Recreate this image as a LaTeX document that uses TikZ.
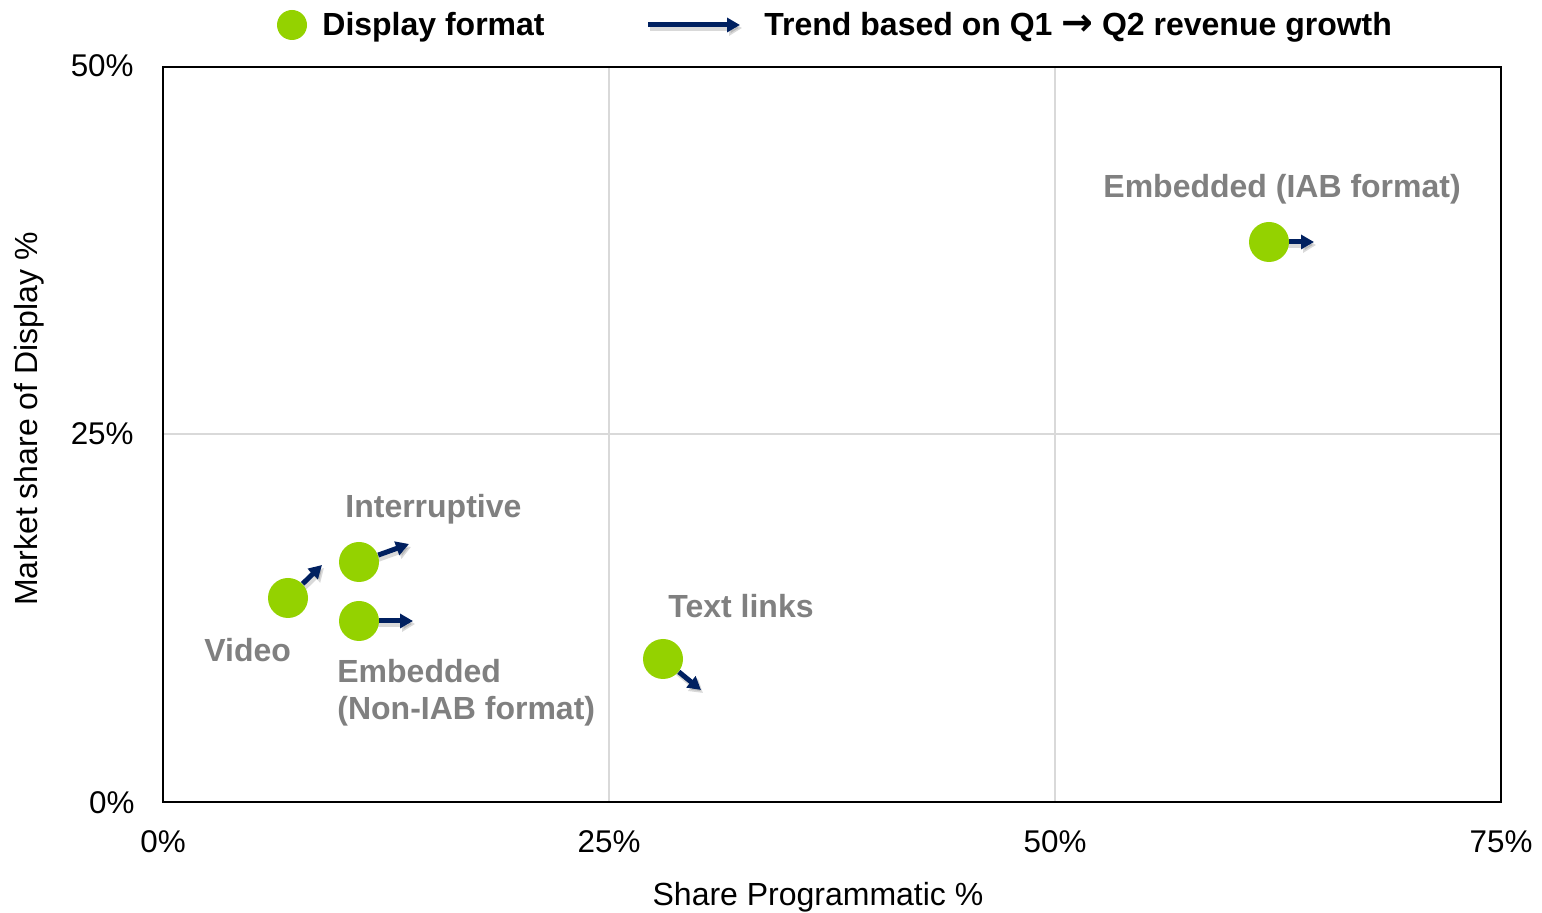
\documentclass[tikz,border=0pt]{standalone}
\usepackage{fontspec}
\setmainfont{Liberation Sans}
\newfontfamily\djv{DejaVu Sans}
\usetikzlibrary{arrows.meta}
\definecolor{dotgreen}{RGB}{148,210,0}
\definecolor{trendblue}{RGB}{0,32,96}
\definecolor{lblgrey}{RGB}{128,128,128}
\definecolor{gridgrey}{RGB}{217,217,217}
\begin{document}
\begin{tikzpicture}[x=0.5pt,y=-0.5pt,
  dot/.style={circle,fill=dotgreen,draw=none,minimum size=20pt,inner sep=0pt},
  trend/.style={draw=trendblue,line width=2.5pt,-{Triangle[length=6.5pt,width=7pt]}},
  trendshadow/.style={draw=black,opacity=0.15,line width=3pt,-{Triangle[length=6.5pt,width=7.5pt]}},
  lbl/.style={font=\fontsize{16}{18.5}\selectfont\bfseries,text=lblgrey,inner sep=0pt,anchor=base west,align=left},
  ticklbl/.style={font=\fontsize{15.7}{18}\selectfont,inner sep=0pt},
  legendtxt/.style={font=\fontsize{16}{18}\selectfont\bfseries,inner sep=0pt,anchor=base west},
  gridline/.style={draw=gridgrey,line width=0.8pt},
  frame/.style={draw=black,line width=1pt}
]
\useasboundingbox (0,0) rectangle (1542,913);

% grid and frame
\coordinate (gx1t) at (609,67); \coordinate (gx1b) at (609,802);
\coordinate (gx2t) at (1055,67); \coordinate (gx2b) at (1055,802);
\coordinate (gyl) at (163,434); \coordinate (gyr) at (1501,434);
\draw[gridline] (gx1t) -- (gx1b);
\draw[gridline] (gx2t) -- (gx2b);
\draw[gridline] (gyl) -- (gyr);
\coordinate (fa) at (163,67); \coordinate (fb) at (1501,802);
\draw[frame] (fa) rectangle (fb);

% tick labels
\node[ticklbl,anchor=base east] (y50) at (134,77) {50\%};
\node[ticklbl,anchor=base east] (y25) at (134,445) {25\%};
\node[ticklbl,anchor=base east] (y0) at (135,813) {0\%};
\node[ticklbl,anchor=base] (x0) at (163,852) {0\%};
\node[ticklbl,anchor=base] (x25) at (609,852) {25\%};
\node[ticklbl,anchor=base] (x50) at (1055,852) {50\%};
\node[ticklbl,anchor=base] (x75) at (1501,852) {75\%};

% axis titles
\node[ticklbl,font=\fontsize{16}{18}\selectfont,anchor=base] (xtitle) at (818,905) {Share Programmatic \%};
\node[ticklbl,font=\fontsize{16}{18}\selectfont,anchor=base,rotate=90] (ytitle) at (38,419) {Market share of Display \%};

% legend
\node[dot,minimum size=15pt] (legdot) at (292,25) {};
\node[legendtxt] (legtxt1) at (322,36) {Display format};
\coordinate (legA) at (648,25); \coordinate (legB) at (740,25);
\coordinate (legAs) at (650,28); \coordinate (legBs) at (742,28);
\draw[trendshadow] (legAs) -- (legBs);
\draw[trend] (legA) -- (legB);
\node[legendtxt] (legtxt2) at (764,36) {Trend based on Q1 {\djv\bfseries\fontsize{19}{18}\selectfont →} Q2 revenue growth};

% arrow tips
\coordinate (vidT) at (322,565);
\coordinate (intT) at (409,544);
\coordinate (embT) at (413,621);
\coordinate (txtT) at (701,690);
\coordinate (iabT) at (1314,242);
\coordinate (vidTs) at (324,568);
\coordinate (intTs) at (411,547);
\coordinate (embTs) at (415,624);
\coordinate (txtTs) at (703,693);
\coordinate (iabTs) at (1316,245);
\coordinate (vidS) at (290,601);
\coordinate (intS) at (361,565);
\coordinate (embS) at (361,624);
\coordinate (txtS) at (665,662);
\coordinate (iabS) at (1271,245);

% shadows
\draw[trendshadow] (vidS) -- (vidTs);
\draw[trendshadow] (intS) -- (intTs);
\draw[trendshadow] (embS) -- (embTs);
\draw[trendshadow] (txtS) -- (txtTs);
\draw[trendshadow] (iabS) -- (iabTs);

% data points
\node[dot] (vid) at (288,598) {};
\node[dot] (int) at (359,562) {};
\node[dot] (emb) at (359,621) {};
\node[dot] (txt) at (663,659) {};
\node[dot] (iab) at (1269,242) {};

\draw[trend] (vid) -- (vidT);
\draw[trend] (int) -- (intT);
\draw[trend] (emb) -- (embT);
\draw[trend] (txt) -- (txtT);
\draw[trend] (iab) -- (iabT);

% labels
\node[lbl] (iabL) at (1103,198) {Embedded (IAB format)};
\node[lbl] (intL) at (345,518) {Interruptive};
\node[lbl] (vidL) at (204,662) {Video};
\node[lbl] (embL) at (337,720) {Embedded\\(Non-IAB format)};
\node[lbl] (txtL) at (668,618) {Text links};
\end{tikzpicture}
\end{document}
